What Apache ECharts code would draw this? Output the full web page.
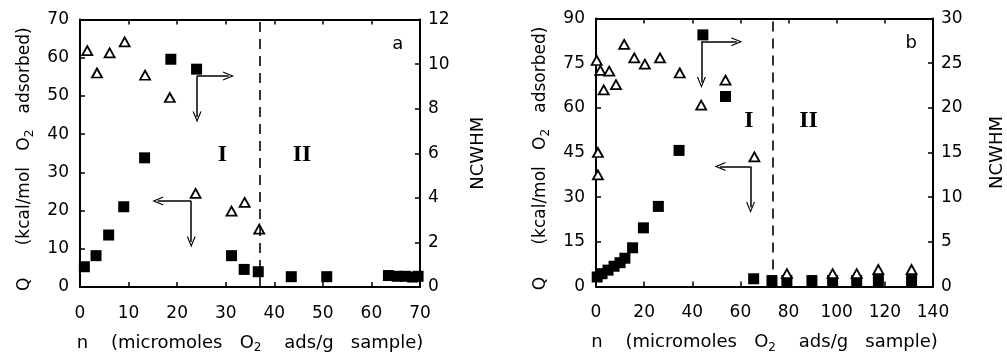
<!DOCTYPE html>
<html>
<head>
<meta charset="utf-8">
<script src="https://cdn.jsdelivr.net/npm/echarts@6/dist/echarts.min.js"></script>
<style>
html,body{margin:0;padding:0;background:#fff;}
#chart{width:1007px;height:361px;}
</style>
</head>
<body>
<div id="chart"></div>
<script>
// ---- Panel a ----
var aSquareX = [0.9, 3.3, 5.9, 9.0, 13.3, 18.7, 24.0, 31.2, 33.8, 36.7, 43.5, 50.8, 63.5, 65.3, 67.0, 68.5, 69.6];
var aSquareQ = [5.3, 8.2, 13.6, 21.0, 33.8, 59.6, 57.0, 8.2, 4.6, 4.0, 2.7, 2.7, 3.0, 2.8, 2.8, 2.6, 2.8];
var aTriX = [1.5, 3.5, 6.1, 9.2, 13.4, 18.5, 23.8, 31.2, 33.9, 36.9];
var aTriN = [10.6, 9.6, 10.5, 11.0, 9.5, 8.5, 4.2, 3.4, 3.8, 2.6];
var aXTicks = [0, 10, 20, 30, 40, 50, 60, 70];
var aQTicks = [0, 10, 20, 30, 40, 50, 60, 70];
var aNTicks = [0, 2, 4, 6, 8, 10, 12];
var aBoundary = 37;
var aNoteX = [29.3, 45.7, 65.4];
var aNoteQ = [34.5, 34.5, 63.5];
var aNoteText = ['I', 'II', 'a'];

// ---- Panel b ----
var bSquareX = [0.5, 2.5, 5, 7.5, 10, 12, 15.2, 19.7, 25.9, 34.5, 44.4, 53.8, 65.5, 73.1, 79.3, 89.7, 98.3, 108.3, 117.3, 131.1];
var bSquareQ = [3.2, 4.3, 5.5, 6.8, 8.0, 9.5, 13.0, 19.7, 26.9, 45.7, 84.5, 63.8, 2.6, 2.0, 2.0, 2.0, 2.0, 2.0, 2.0, 2.0];
var bTriX = [0.3, 0.8, 0.8, 1.8, 3.2, 5.5, 8.3, 11.7, 15.9, 20.3, 26.6, 34.8, 43.7, 53.8, 65.8, 79.3, 98.3, 108.3, 117.3, 131.1];
var bTriN = [25.3, 15.0, 12.5, 24.2, 22.0, 24.1, 22.6, 27.1, 25.6, 24.9, 25.6, 23.9, 20.3, 23.1, 14.5, 1.45, 1.45, 1.45, 1.9, 1.9];
var bXTicks = [0, 20, 40, 60, 80, 100, 120, 140];
var bQTicks = [0, 15, 30, 45, 60, 75, 90];
var bNTicks = [0, 5, 10, 15, 20, 25, 30];
var bBoundary = 73.4;
var bNoteX = [63.5, 88.3, 131];
var bNoteQ = [55.5, 55.5, 81.5];
var bNoteText = ['I', 'II', 'b'];

var FONT = 'DejaVu Sans';
var chevron = 'path://M0,10 L5,0 L10,10 L8.6,10 L5,2.6 L1.4,10 Z';

function zip(xs, ys){ return xs.map(function(x,i){ return [x, ys[i]]; }); }
function arrow(x1,y1,x2,y2){ return [{coord:[x1,y1]},{coord:[x2,y2]}]; }

var xName = '{t|n    (micromoles   O}{s|2}{t|    ads/g   sample)}';
var yName = '{t|Q      (kcal/mol   O}{s|2}{t|   adsorbed)}';
function richName(sz){
  return {
    t:{fontFamily:FONT,fontSize:sz,color:'#000',lineHeight:22},
    s:{fontFamily:FONT,fontSize:12,color:'#000',lineHeight:22,verticalAlign:'bottom',padding:[7,0,0,0]}
  };
}

function xAxes(grid, ticks){
  var base = {
    gridIndex:grid, type:'value', min:ticks[0], max:ticks[ticks.length-1],
    interval:ticks[1]-ticks[0], splitLine:{show:false},
    axisLine:{show:true,onZero:false,lineStyle:{color:'#000',width:2}},
    axisTick:{show:true,inside:true,length:5,lineStyle:{color:'#000',width:1.5}}
  };
  var bottom = Object.assign({}, base, {
    position:'bottom',
    axisLabel:{show:true,margin:18,color:'#000',fontFamily:FONT,fontSize:17},
    name:xName, nameLocation:'middle', nameGap:45,
    nameTextStyle:{rich:richName(18)}
  });
  var top = Object.assign({}, base, {position:'top', axisLabel:{show:false}});
  return [bottom, top];
}
function yAxes(grid, qTicks, nTicks, rightGap){
  var left = {
    gridIndex:grid, type:'value', position:'left', min:qTicks[0], max:qTicks[qTicks.length-1],
    interval:qTicks[1]-qTicks[0], splitLine:{show:false},
    axisLine:{show:true,onZero:false,lineStyle:{color:'#000',width:2}},
    axisTick:{show:true,inside:true,length:5,lineStyle:{color:'#000',width:1.5}},
    axisLabel:{margin:11,color:'#000',fontFamily:FONT,fontSize:17},
    name:yName, nameLocation:'middle', nameGap:44, nameRotate:90,
    nameTextStyle:{rich:richName(17), padding:[0,12,0,0]}
  };
  var right = {
    gridIndex:grid, type:'value', position:'right', min:nTicks[0], max:nTicks[nTicks.length-1],
    interval:nTicks[1]-nTicks[0], splitLine:{show:false},
    axisLine:{show:true,onZero:false,lineStyle:{color:'#000',width:2}},
    axisTick:{show:true,inside:true,length:5,lineStyle:{color:'#000',width:1.5}},
    axisLabel:{margin:8,color:'#000',fontFamily:FONT,fontSize:17},
    name:'NCWHM', nameLocation:'middle', nameGap:rightGap, nameRotate:90,
    nameTextStyle:{fontFamily:FONT,fontSize:18,color:'#000'}
  };
  return [left, right];
}

function notes(xs, ys, texts){
  return xs.map(function(x,i){
    var serif = texts[i] === 'I' || texts[i] === 'II';
    return {value:[x, ys[i]], label:{show:true, position:'inside', formatter:texts[i], color:'#000',
      fontFamily: serif ? 'Liberation Serif' : FONT,
      fontWeight: serif ? 'bold' : 'normal',
      fontSize: serif ? 24 : 18}};
  });
}

var lineArrow = {color:'#000', width:1.5, type:'solid'};

var option = {
  animation:false,
  backgroundColor:'#fff',
  grid:[
    {left:80, top:19.5, width:340, height:267.5},
    {left:596, top:18.5, width:339, height:268}
  ],
  xAxis: xAxes(0, aXTicks).concat(xAxes(1, bXTicks)),
  yAxis: yAxes(0, aQTicks, aNTicks, 49).concat(yAxes(1, bQTicks, bNTicks, 55)),
  series:[
    {
      type:'scatter', xAxisIndex:0, yAxisIndex:0, data:zip(aSquareX, aSquareQ),
      symbol:'rect', symbolSize:11, itemStyle:{color:'#000', opacity:1}, z:2,
      markLine:{
        silent:true, symbol:['none', chevron], symbolSize:[9,11],
        label:{show:false}, lineStyle:lineArrow,
        data:[
          arrow(24.1,55.2,30.6,55.2), arrow(24.1,55.2,24.1,44.5),
          arrow(22.9,22.5,16.0,22.5), arrow(22.9,22.5,22.9,11.8)
        ]
      }
    },
    {
      type:'scatter', xAxisIndex:0, yAxisIndex:1, data:zip(aTriX, aTriN),
      symbol:'triangle', symbolSize:[10,9], z:3,
      itemStyle:{color:'#fff', borderColor:'#000', borderWidth:1.8, opacity:1},
      markLine:{
        silent:true, symbol:['none','none'], label:{show:false},
        lineStyle:{color:'#000', width:1.6, type:[10,7]},
        data:[{xAxis:aBoundary}]
      }
    },
    {
      type:'scatter', xAxisIndex:0, yAxisIndex:0, data:notes(aNoteX, aNoteQ, aNoteText),
      symbolSize:1, itemStyle:{color:'rgba(0,0,0,0)', opacity:1}, silent:true, z:4
    },
    {
      type:'scatter', xAxisIndex:2, yAxisIndex:2, data:zip(bSquareX, bSquareQ),
      symbol:'rect', symbolSize:11, itemStyle:{color:'#000', opacity:1}, z:2,
      markLine:{
        silent:true, symbol:['none', chevron], symbolSize:[9,11],
        label:{show:false}, lineStyle:lineArrow,
        data:[
          arrow(43.8,82.2,58.5,82.2), arrow(43.8,82.2,43.8,68.5),
          arrow(64.2,40.3,51.5,40.3), arrow(64.2,40.3,64.2,26.5)
        ]
      }
    },
    {
      type:'scatter', xAxisIndex:2, yAxisIndex:3, data:zip(bTriX, bTriN),
      symbol:'triangle', symbolSize:[10,9], z:3,
      itemStyle:{color:'#fff', borderColor:'#000', borderWidth:1.8, opacity:1},
      markLine:{
        silent:true, symbol:['none','none'], label:{show:false},
        lineStyle:{color:'#000', width:1.6, type:[10,7]},
        data:[{xAxis:bBoundary}]
      }
    },
    {
      type:'scatter', xAxisIndex:2, yAxisIndex:2, data:notes(bNoteX, bNoteQ, bNoteText),
      symbolSize:1, itemStyle:{color:'rgba(0,0,0,0)', opacity:1}, silent:true, z:4
    }
  ]
};

var chart = echarts.init(document.getElementById('chart'), null, {renderer:'canvas'});
chart.setOption(option);
</script>
</body>
</html>
